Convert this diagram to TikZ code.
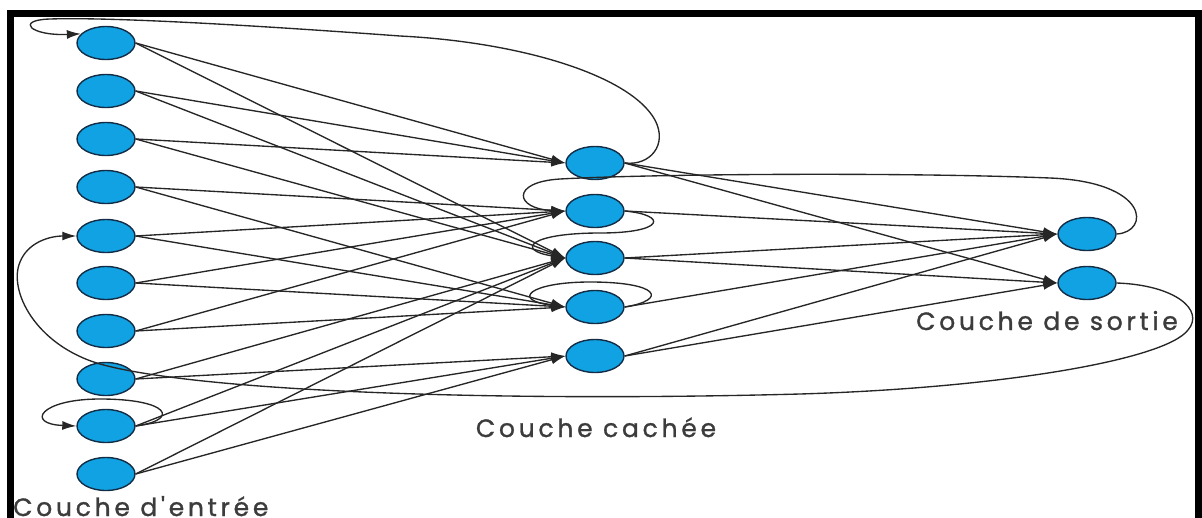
\documentclass[tikz,border=0pt]{standalone}
\usepackage{fontspec}
\newfontfamily\couchefont{Poppins}[LetterSpace=15,FakeBold=1.2]
\usetikzlibrary{shapes,arrows.meta}
\definecolor{bleu}{RGB}{16,162,226}
\definecolor{bord}{RGB}{20,45,70}
\definecolor{gristexte}{RGB}{60,60,60}

\begin{document}
\begin{tikzpicture}[x=1pt,y=-1pt,
  neurone/.style={ellipse,draw=bord,line width=1.4pt,fill=bleu,
    minimum width=58pt,minimum height=33pt,inner sep=0pt},
  couche/.style={font=\couchefont\fontsize{25}{28}\selectfont,
    text=gristexte,inner sep=0pt},
  lien/.style={line width=1.35pt,black!85},
  >={Latex[length=14pt,width=9pt]}]
  \useasboundingbox (0,0) rectangle (1202,517);
  \node[neurone] (E1) at (106,43) {};
  \node[neurone] (E2) at (106,91) {};
  \node[neurone] (E3) at (106,139) {};
  \node[neurone] (E4) at (106,187) {};
  \node[neurone] (E5) at (106,236) {};
  \node[neurone] (E6) at (106,283) {};
  \node[neurone] (E7) at (106,331) {};
  \node[neurone] (E8) at (106,379) {};
  \node[neurone] (E9) at (106,426) {};
  \node[neurone] (E10) at (106,474) {};
  %%
  \node[neurone] (C1) at (595,163) {};
  \node[neurone] (C2) at (595,211) {};
  \node[neurone] (C3) at (595,258) {};
  \node[neurone] (C4) at (595,307) {};
  \node[neurone] (C5) at (595,356) {};
  %%
  \node[neurone] (S1) at (1087,234) {};
  \node[neurone] (S2) at (1087,283) {};

  \node[couche,anchor=base] (cachee) at (596,437) {Couche cachée};
  \node[couche,anchor=base] (sortie) at (1047,330) {Couche de sortie};
  \node[couche,anchor=base west] (entree) at (13,516) {Couche d'entrée};

  \path[->,lien] (E1.east) edge (C1.west) (E1.east) edge (C3.west)
    (E2.east) edge (C1.west) (E2.east) edge (C3.west)
    (E3.east) edge (C1.west) (E3.east) edge (C3.west);
  \path[->,lien] (E4.east) edge (C2.west) (E4.east) edge (C4.west)
    (E5.east) edge (C2.west) (E5.east) edge (C4.west)
    (E6.east) edge (C2.west) (E6.east) edge (C4.west)
    (E7.east) edge (C2.west) (E7.east) edge (C4.west);
  \path[->,lien] (E8.east) edge (C3.west) (E8.east) edge (C5.west)
    (E9.east) edge (C3.west) (E9.east) edge (C5.west)
    (E10.east) edge (C3.west) (E10.east) edge (C5.west);
  \path[->,lien] (C1.east) edge (S1.west) (C1.east) edge (S2.west)
    (C2.east) edge (S1.west) (C3.east) edge (S1.west)
    (C3.east) edge (S2.west) (C4.east) edge (S1.west)
    (C5.east) edge (S1.west) (C5.east) edge (S2.west);

  % retours
  \draw[->,lien] (C1.east) .. controls (650,166) and (668,145) .. (655,120)
    .. controls (630,75) and (520,42) .. (400,36)
    .. controls (250,25) and (110,17) .. (50,19)
    .. controls (15,20) and (30,36) .. (E1.160);
  \draw[->,lien] (S1.east) .. controls (1150,232) and (1150,182) .. (1050,178)
    .. controls (900,172) and (650,174) .. (560,179)
    .. controls (510,182) and (515,209) .. (C2.west);
  \draw[->,lien] (S2.east) .. controls (1175,285) and (1205,310) .. (1188,330)
    .. controls (1165,360) and (1000,388) .. (800,394)
    .. controls (500,402) and (200,392) .. (100,364)
    .. controls (35,345) and (8,290) .. (20,262)
    .. controls (28,242) and (50,236) .. (E5.west);
  \draw[->,lien] (C2.east) .. controls (668,215) and (665,233) .. (600,233)
    .. controls (530,233) and (515,250) .. (C3.west);
  \draw[->,lien] (C4.east) .. controls (668,300) and (660,282) .. (590,282)
    .. controls (530,282) and (510,300) .. (C4.west);
  \draw[->,lien] (E9.east) .. controls (180,420) and (170,399) .. (100,399)
    .. controls (40,399) and (25,424) .. (E9.west);

  \draw[line width=7pt] (10.5,13.5) rectangle (1198.5,521);
\end{tikzpicture}
\end{document}
